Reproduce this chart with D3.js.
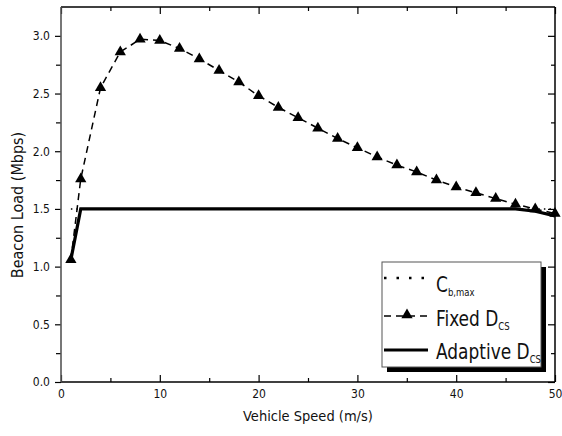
<!DOCTYPE html>
<html>
<head>
<meta charset="utf-8">
<script src="https://cdn.jsdelivr.net/npm/d3@7"></script>
<style>
  body { margin: 0; background: #fff; }
  text { font-family: "DejaVu Sans Condensed", "DejaVu Sans", sans-serif; font-stretch: condensed; fill: #111; }
  .axis path { display: none; }
  .axis line { stroke: #000; stroke-width: 1.2; }
</style>
</head>
<body>
<div class="chart"></div>
<script>
// data
var speeds = [1, 2, 4, 6, 8, 10, 12, 14, 16, 18, 20, 22, 24, 26, 28, 30, 32, 34, 36, 38, 40, 42, 44, 46, 48, 50];
var fixedLoad = [1.06, 1.76, 2.55, 2.86, 2.97, 2.96, 2.89, 2.80, 2.70, 2.60, 2.48, 2.38, 2.29, 2.20, 2.11, 2.03,
  1.95, 1.88, 1.82, 1.75, 1.69, 1.64, 1.59, 1.54, 1.50, 1.46];
var adaptiveLoad = [1.06, 1.50, 1.50, 1.50, 1.50, 1.50, 1.50, 1.50, 1.50, 1.50, 1.50, 1.50, 1.50, 1.50, 1.50, 1.50,
  1.50, 1.50, 1.50, 1.50, 1.50, 1.50, 1.50, 1.50, 1.48, 1.44];
var cbMax = [1.5, 1.5, 1.5, 1.5, 1.5, 1.5, 1.5, 1.5, 1.5, 1.5, 1.5, 1.5, 1.5, 1.5, 1.5, 1.5,
  1.5, 1.5, 1.5, 1.5, 1.5, 1.5, 1.5, 1.5, 1.5, 1.5];
var xTicks = [0, 10, 20, 30, 40, 50];
var xMinor = [5, 15, 25, 35, 45];
var yTicks = [0, 0.5, 1.0, 1.5, 2.0, 2.5, 3.0];
var yMinor = [0.25, 0.75, 1.25, 1.75, 2.25, 2.75];

var svgWidth = 562, svgHeight = 436;
var margin = { top: 7, right: 7, bottom: 54, left: 61 };
var width = svgWidth - margin.left - margin.right;
var height = svgHeight - margin.top - margin.bottom;

var svg = d3.select(".chart").append("svg")
  .attr("width", svgWidth)
  .attr("height", svgHeight);

var chartGroup = svg.append("g")
  .attr("transform", `translate(${margin.left}, ${margin.top})`);

var xScale = d3.scaleLinear().domain([0, 50]).range([0, width]);
var yScale = d3.scaleLinear().domain([0, 3.25]).range([height, 0]);

// axes: bottom/top/right ticks point inward, left ticks outward
chartGroup.append("g").attr("class", "axis")
  .attr("transform", `translate(0, ${height})`)
  .call(d3.axisBottom(xScale).tickValues(xTicks).tickSize(-7).tickPadding(7.5).tickFormat(d3.format("d")))
  .selectAll("text").style("font-size", "12px");
chartGroup.append("g").attr("class", "axis")
  .attr("transform", `translate(0, ${height})`)
  .call(d3.axisBottom(xScale).tickValues(xMinor).tickSize(-4).tickFormat(""));
chartGroup.append("g").attr("class", "axis")
  .call(d3.axisTop(xScale).tickValues(xTicks).tickSize(-7).tickFormat(""));
chartGroup.append("g").attr("class", "axis")
  .call(d3.axisTop(xScale).tickValues(xMinor).tickSize(-4).tickFormat(""));

chartGroup.append("g").attr("class", "axis")
  .call(d3.axisLeft(yScale).tickValues(yTicks).tickSize(6).tickPadding(5).tickFormat(d3.format(".1f")))
  .selectAll("text").style("font-size", "12px");
chartGroup.append("g").attr("class", "axis")
  .call(d3.axisLeft(yScale).tickValues(yMinor).tickSize(5).tickFormat(""));
chartGroup.append("g").attr("class", "axis")
  .attr("transform", `translate(${width}, 0)`)
  .call(d3.axisRight(yScale).tickValues(yTicks).tickSize(-7).tickFormat(""));
chartGroup.append("g").attr("class", "axis")
  .attr("transform", `translate(${width}, 0)`)
  .call(d3.axisRight(yScale).tickValues(yMinor).tickSize(-4).tickFormat(""));

// frame
chartGroup.append("line").attr("x1", 0).attr("x2", width).attr("y1", 0).attr("y2", 0)
  .attr("stroke", "#000").attr("stroke-width", 1.5);
chartGroup.append("line").attr("x1", 0).attr("x2", width).attr("y1", height).attr("y2", height)
  .attr("stroke", "#000").attr("stroke-width", 1.5);
chartGroup.append("line").attr("x1", width).attr("x2", width).attr("y1", 0).attr("y2", height)
  .attr("stroke", "#000").attr("stroke-width", 1.5);
chartGroup.append("line").attr("x1", 0).attr("x2", 0).attr("y1", 0).attr("y2", height)
  .attr("stroke", "#555").attr("stroke-width", 1.6);

// lines
var loadLine = d3.line().x((d, i) => xScale(speeds[i])).y(d => yScale(d));

chartGroup.append("path")
  .datum(cbMax)
  .attr("d", loadLine)
  .attr("fill", "none")
  .attr("stroke", "#000")
  .attr("stroke-width", 1.5)
  .attr("stroke-dasharray", "1.5,4");

chartGroup.append("path")
  .datum(fixedLoad)
  .attr("d", loadLine)
  .attr("fill", "none")
  .attr("stroke", "#000")
  .attr("stroke-width", 1.5)
  .attr("stroke-dasharray", "7,5");

chartGroup.append("path")
  .datum(adaptiveLoad)
  .attr("d", loadLine)
  .attr("fill", "none")
  .attr("stroke", "#000")
  .attr("stroke-width", 3.2);

var tri = d3.symbol().type(d3.symbolTriangle).size(55);
chartGroup.selectAll(".tri")
  .data(fixedLoad)
  .enter()
  .append("path")
  .attr("class", "tri")
  .attr("d", tri)
  .attr("transform", (d, i) => `translate(${xScale(speeds[i])}, ${yScale(d)})`)
  .attr("fill", "#000");

// axis titles
svg.append("text")
  .attr("x", margin.left + width / 2)
  .attr("y", 421)
  .style("text-anchor", "middle")
  .style("font-size", "14.5px")
  .text("Vehicle Speed (m/s)");

svg.append("text")
  .attr("transform", "rotate(-90)")
  .attr("x", -205)
  .attr("y", 23)
  .style("text-anchor", "middle")
  .style("font-size", "16px")
  .text("Beacon Load (Mbps)");

// legend with drop shadow
var legend = svg.append("g").attr("transform", "translate(382, 262)");
legend.append("rect").attr("x", 5).attr("y", 5).attr("width", 159).attr("height", 105).attr("fill", "#000");
legend.append("rect").attr("x", 0).attr("y", 0).attr("width", 159).attr("height", 105)
  .attr("fill", "#fff").attr("stroke", "#555").attr("stroke-width", 1);

var rows = [
  { main: "C", sub: "b,max", y: 16, base: 29.5, dash: "2.5,10", width: 2.5, marker: false },
  { main: "Fixed D", sub: "CS", y: 54, base: 63.5, dash: "7,5", width: 1.5, marker: true },
  { main: "Adaptive D", sub: "CS", y: 88, base: 96.5, dash: null, width: 3.2, marker: false }
];
rows.forEach(function(r) {
  legend.append("line")
    .attr("x1", 2).attr("x2", 46).attr("y1", r.y).attr("y2", r.y)
    .attr("stroke", "#000").attr("stroke-width", r.width)
    .attr("stroke-dasharray", r.dash);
  if (r.marker) {
    legend.append("path").attr("d", tri).attr("transform", `translate(25, ${r.y - 1})`).attr("fill", "#000");
  }
  // legend text is narrower than the font, squeeze it a bit
  var t = legend.append("text")
    .attr("transform", `translate(54, ${r.base}) scale(0.9, 1)`)
    .style("font-size", "21px");
  t.append("tspan").text(r.main);
  t.append("tspan").attr("dy", 4).style("font-size", "10.5px").text(r.sub);
});
</script>
</body>
</html>
